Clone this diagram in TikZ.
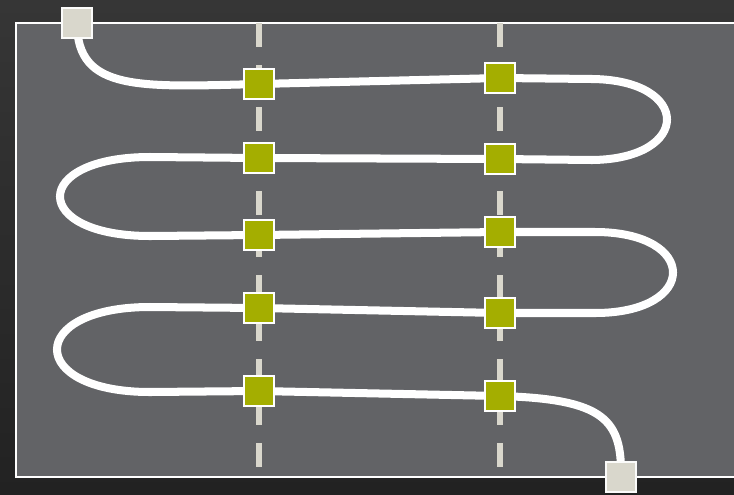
\documentclass[tikz,border=0pt]{standalone}
\usepackage{xcolor}
\usepackage{tikz}
\usetikzlibrary{positioning,backgrounds}
\definecolor{cTop}{HTML}{363636}
\definecolor{cBottom}{HTML}{222222}
\definecolor{cPanel}{HTML}{626366}
\definecolor{cSand}{HTML}{D9D7CC}
\definecolor{cLeaf}{HTML}{A4AE00}
\pgfdeclarelayer{base}
\pgfdeclarelayer{wires}
\pgfsetlayers{base,wires,main}
\tikzset{
  station/.style={draw=white, line width=1.4pt, fill=cLeaf, minimum size=7.5mm, inner sep=0pt},
  terminal/.style={station, draw=white!90!cSand, fill=cSand},
  wire/.style={draw=white, line width=5.7pt},
  track/.style={draw=cSand, line width=3.6pt, dash pattern=on 0.6cm off 0.45cm},
  panel/.style={draw=white, line width=1.4pt, fill=cPanel},
}

\begin{document}
\begin{tikzpicture}[x=0.025cm, y=-0.025cm]
  \useasboundingbox (0,0) rectangle (734,494);
  % stops on the two tracks
  \node[terminal] (start) at (77,23) {};
  \node[station] (l1) at (259,84) {};
  \node[station] (l2) at (259,158) {};
  \node[station] (l3) at (259,235) {};
  \node[station] (l4) at (259,308) {};
  \node[station] (l5) at (259,391) {};
  \node[station] (r1) at (500,78) {};
  \node[station] (r2) at (500,159) {};
  \node[station] (r3) at (500,232) {};
  \node[station] (r4) at (500,313) {};
  \node[station] (r5) at (500,396) {};
  \node[terminal] (finish) at (621,477) {};
  % backdrop, board and tracks
  \begin{pgfonlayer}{base}
    \fill[top color=cTop, bottom color=cBottom] (0,0) rectangle (734,494);
    \draw[panel] (16,23) rectangle (760,477);
    \draw[track] (259,23) -- (259,477);
    \draw[track] (500,23) -- (500,477);
  \end{pgfonlayer}
  % the winding route
  \begin{pgfonlayer}{wires}
    \draw[wire] (start.center) .. controls (77,92) and (140,87) .. (l1.center)
      -- (r1.center) -- (592,79) .. controls (692,80) and (692,159) .. (592,160)
      -- (r2.center) -- (l2.center) -- (150,157) .. controls (30,157) and (30,236) .. (150,236)
      -- (l3.center) -- (r3.center) -- (595,232) .. controls (699,232) and (699,313) .. (595,313)
      -- (r4.center) -- (l4.center) -- (150,307) .. controls (26,307) and (26,392) .. (150,392)
      -- (l5.center) -- (r5.center) .. controls (605,399) and (622,420) .. (finish.center);
  \end{pgfonlayer}
\end{tikzpicture}
\end{document}
